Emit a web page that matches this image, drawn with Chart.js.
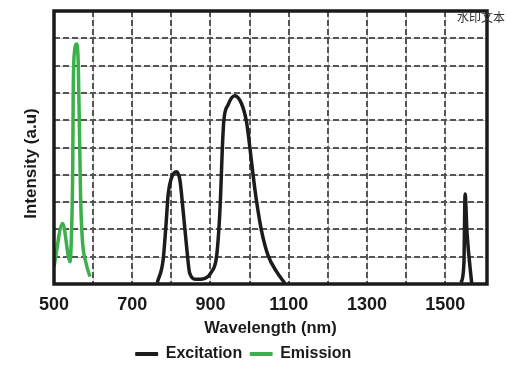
<!DOCTYPE html>
<html>
<head>
<meta charset="utf-8">
<script src="https://cdn.jsdelivr.net/npm/chart.js@4/dist/chart.umd.min.js"></script>
<style>
  html, body { margin: 0; padding: 0; background: #ffffff; }
  #wrap { position: relative; width: 515px; height: 372px; }
  #wm { position: absolute; left: 457px; top: 9px; font: 12px "Noto Sans CJK SC", sans-serif; color: #333; line-height: 16px; }
</style>
</head>
<body>
<div id="wrap">
  <canvas id="c" width="515" height="372"></canvas>
  <div id="wm">水印文本</div>
</div>
<script>
// ---- data ----
const excitationX = [764, 779, 786, 792, 800, 813, 822, 830, 839, 847, 864, 886, 903, 915, 921, 926, 930, 934, 945, 962, 979, 992, 1001, 1009, 1018, 1031, 1047, 1069, 1090, 1300, 1541, 1548, 1551, 1556, 1568];
const excitationY = [0.05, 0.88, 2.1, 3.3, 3.87, 4.11, 3.8, 2.7, 1.37, 0.39, 0.17, 0.21, 0.45, 0.94, 1.9, 3.26, 4.85, 5.95, 6.56, 6.9, 6.62, 5.95, 4.97, 3.99, 3.01, 1.92, 1.06, 0.45, 0.03, null, 0.05, 0.76, 3.3, 1.86, 0.0];
const emissionX = [500, 522, 541, 545, 548, 549, 552, 558, 562, 565, 568, 572, 582, 592];
const emissionY = [0.63, 2.22, 0.82, 1.98, 4.42, 6.86, 8.45, 8.79, 8.08, 5.64, 3.2, 1.73, 0.76, 0.27];
const xTickLabels = [500, 700, 900, 1100, 1300, 1500];
const seriesNames = ['Excitation', 'Emission'];
const seriesColors = ['#1c1c1c', '#3cb04a'];

const toPts = (xs, ys) => xs.map((x, i) => ({ x: x, y: ys[i] }));
const FONT = '"Liberation Sans", Arial, sans-serif';

const underGrid = {
  id: 'underGrid',
  beforeDraw(chart) {
    const { ctx, chartArea: a, scales: { x, y } } = chart;
    ctx.save();
    ctx.strokeStyle = '#c8c8c8';
    ctx.lineWidth = 1;
    ctx.beginPath();
    x.ticks.forEach(t => { const px = Math.round(x.getPixelForValue(t.value)) + 0.5; ctx.moveTo(px, a.top); ctx.lineTo(px, a.bottom); });
    y.ticks.forEach(t => { const py = Math.round(y.getPixelForValue(t.value)) + 0.5; ctx.moveTo(a.left, py); ctx.lineTo(a.right, py); });
    ctx.stroke();
    ctx.restore();
  }
};

const frame = {
  id: 'frame',
  afterDatasetsDraw(chart) {
    const { ctx, chartArea: a } = chart;
    ctx.save();
    ctx.strokeStyle = '#1a1a1a';
    ctx.lineWidth = 3.5;
    ctx.strokeRect(a.left, a.top, a.right - a.left, a.bottom - a.top);
    ctx.restore();
  },
  afterDraw(chart) {
    const { ctx, chartArea: a } = chart;
    ctx.save();
    ctx.translate(31, (a.top + a.bottom) / 2 + 16);
    ctx.rotate(-Math.PI / 2);
    ctx.font = 'bold 17px ' + FONT;
    ctx.fillStyle = '#1a1a1a';
    ctx.textAlign = 'center';
    ctx.textBaseline = 'middle';
    ctx.fillText('Intensity (a.u)', 0, 0);
    ctx.restore();
  }
};

new Chart(document.getElementById('c'), {
  type: 'line',
  data: {
    datasets: [
      {
        label: seriesNames[0],
        data: toPts(excitationX, excitationY),
        borderColor: seriesColors[0],
        backgroundColor: seriesColors[0],
        borderWidth: 3.5,
        pointRadius: 0,
        cubicInterpolationMode: 'monotone',
        spanGaps: false
      },
      {
        label: seriesNames[1],
        data: toPts(emissionX, emissionY),
        borderColor: seriesColors[1],
        backgroundColor: seriesColors[1],
        borderWidth: 3.5,
        pointRadius: 0,
        cubicInterpolationMode: 'monotone'
      }
    ]
  },
  plugins: [underGrid, frame],
  options: {
    responsive: false,
    animation: false,
    events: [],
    layout: { padding: { left: 0, right: 28, top: 11, bottom: 0 } },
    plugins: {
      tooltip: { enabled: false },
      legend: {
        position: 'bottom',
        labels: {
          boxWidth: 22,
          boxHeight: 3,
          padding: 8,
          color: '#1a1a1a',
          font: { family: FONT, size: 16, weight: 'bold' },
          generateLabels(chart) {
            return chart.data.datasets.map((d, i) => ({
              text: d.label, fillStyle: d.borderColor, strokeStyle: d.borderColor,
              lineWidth: 1, hidden: false, datasetIndex: i, fontColor: '#1a1a1a'
            }));
          }
        }
      }
    },
    scales: {
      x: {
        type: 'linear',
        min: 500,
        max: 1607,
        afterBuildTicks(scale) {
          const out = [];
          for (let v = 500; v <= 1500; v += 100) out.push({ value: v });
          scale.ticks = out;
        },
        afterFit(scale) { scale.height = 54; },
        ticks: {
          padding: 10,
          maxRotation: 0,
          autoSkip: false,
          color: '#1a1a1a',
          font: { family: FONT, size: 18, weight: 'bold' },
          callback: v => (xTickLabels.includes(v) ? String(v) : '')
        },
        grid: { color: '#555555', lineWidth: 2, drawTicks: false },
        border: { display: false, dash: [6, 3] },
        title: {
          display: true,
          text: 'Wavelength (nm)',
          color: '#1a1a1a',
          font: { family: FONT, size: 16.5, weight: 'bold' },
          padding: { top: 0, bottom: 0 }
        }
      },
      y: {
        min: 0,
        max: 10,
        afterFit(scale) { scale.width = 54; },
        ticks: { display: false, stepSize: 1 },
        grid: { color: '#555555', lineWidth: 2, drawTicks: false },
        border: { display: false, dash: [6, 3] }
      }
    }
  }
});
</script>
</body>
</html>
